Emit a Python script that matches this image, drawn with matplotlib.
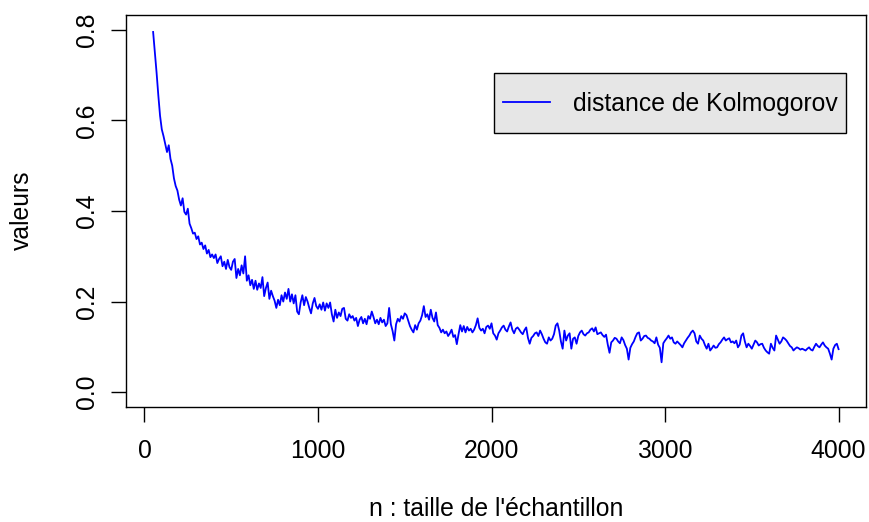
import numpy as np
import matplotlib
matplotlib.use("Agg")
import matplotlib.pyplot as plt

plt.rcParams['font.family'] = ['Liberation Sans', 'DejaVu Sans']

# sample sizes n = 50, 60, ..., 4000
n_start, n_stop, n_step = 50, 4000, 10
n_values = list(range(n_start, n_stop + 1, n_step))

# Kolmogorov distance for each sample size (rows grouped by hundreds of n)
kolmogorov = [
    0.795, 0.750, 0.705, 0.655, 0.610,
    0.580, 0.565, 0.548, 0.530, 0.545, 0.515, 0.500, 0.472, 0.455, 0.445,
    0.425, 0.412, 0.428, 0.398, 0.392, 0.405, 0.372, 0.362, 0.350, 0.352,
    0.338, 0.344, 0.326, 0.330, 0.316, 0.324, 0.306, 0.314, 0.298, 0.304,
    0.296, 0.304, 0.285, 0.294, 0.300, 0.278, 0.288, 0.272, 0.292, 0.276,
    0.270, 0.288, 0.294, 0.252, 0.272, 0.258, 0.280, 0.262, 0.300, 0.246,
    0.258, 0.236, 0.248, 0.228, 0.246, 0.226, 0.240, 0.230, 0.254, 0.212,
    0.230, 0.242, 0.206, 0.224, 0.212, 0.202, 0.186, 0.204, 0.192, 0.214,
    0.200, 0.220, 0.206, 0.228, 0.200, 0.216, 0.196, 0.214, 0.178, 0.172,
    0.198, 0.214, 0.192, 0.210, 0.200, 0.186, 0.174, 0.196, 0.208, 0.190,
    0.184, 0.194, 0.182, 0.198, 0.180, 0.196, 0.186, 0.198, 0.172, 0.156,
    0.182, 0.164, 0.176, 0.168, 0.184, 0.186, 0.162, 0.158, 0.172, 0.164,
    0.168, 0.158, 0.164, 0.146, 0.160, 0.166, 0.152, 0.162, 0.150, 0.168,
    0.162, 0.178, 0.166, 0.152, 0.160, 0.150, 0.164, 0.154, 0.160, 0.146,
    0.152, 0.186, 0.150, 0.135, 0.114, 0.150, 0.162, 0.156, 0.168, 0.162,
    0.174, 0.170, 0.158, 0.146, 0.138, 0.132, 0.148, 0.138, 0.152, 0.158,
    0.170, 0.190, 0.166, 0.172, 0.160, 0.182, 0.164, 0.156, 0.176, 0.148,
    0.142, 0.132, 0.138, 0.130, 0.134, 0.124, 0.130, 0.138, 0.122, 0.126,
    0.106, 0.128, 0.148, 0.134, 0.146, 0.132, 0.144, 0.136, 0.140, 0.132,
    0.138, 0.148, 0.163, 0.142, 0.136, 0.140, 0.130, 0.144, 0.147, 0.140,
    0.152, 0.130, 0.125, 0.116, 0.130, 0.136, 0.143, 0.147, 0.138, 0.134,
    0.145, 0.154, 0.138, 0.130, 0.140, 0.143, 0.138, 0.132, 0.128, 0.137,
    0.143, 0.120, 0.107, 0.120, 0.124, 0.130, 0.132, 0.124, 0.136, 0.128,
    0.118, 0.110, 0.107, 0.121, 0.114, 0.118, 0.128, 0.147, 0.152, 0.136,
    0.112, 0.096, 0.136, 0.114, 0.125, 0.130, 0.096, 0.118, 0.121, 0.107,
    0.124, 0.132, 0.136, 0.128, 0.125, 0.130, 0.132, 0.138, 0.141, 0.134,
    0.143, 0.128, 0.130, 0.132, 0.126, 0.122, 0.127, 0.105, 0.087, 0.110,
    0.114, 0.120, 0.118, 0.112, 0.108, 0.121, 0.115, 0.104, 0.096, 0.072,
    0.098, 0.106, 0.112, 0.122, 0.130, 0.132, 0.114, 0.118, 0.124, 0.125,
    0.120, 0.118, 0.114, 0.112, 0.108, 0.121, 0.105, 0.098, 0.066, 0.108,
    0.114, 0.119, 0.125, 0.118, 0.121, 0.110, 0.107, 0.112, 0.108, 0.104,
    0.099, 0.108, 0.114, 0.120, 0.125, 0.132, 0.136, 0.130, 0.112, 0.107,
    0.125, 0.118, 0.114, 0.104, 0.096, 0.107, 0.092, 0.097, 0.103, 0.098,
    0.099, 0.106, 0.110, 0.116, 0.121, 0.114, 0.117, 0.119, 0.110, 0.112,
    0.108, 0.114, 0.099, 0.105, 0.125, 0.130, 0.112, 0.099, 0.107, 0.102,
    0.096, 0.105, 0.114, 0.110, 0.103, 0.106, 0.107, 0.098, 0.092, 0.088,
    0.085, 0.107, 0.098, 0.092, 0.125, 0.116, 0.107, 0.112, 0.121, 0.118,
    0.114, 0.108, 0.102, 0.099, 0.092, 0.096, 0.099, 0.097, 0.094, 0.096,
    0.094, 0.092, 0.096, 0.099, 0.094, 0.092, 0.100, 0.107, 0.102, 0.099,
    0.105, 0.110, 0.103, 0.099, 0.096, 0.085, 0.072, 0.096, 0.104, 0.107,
    0.095,
]
assert len(kolmogorov) == len(n_values)

x_ticks = [0, 1000, 2000, 3000, 4000]
y_ticks = [0.0, 0.2, 0.4, 0.6, 0.8]
y_tick_labels = ["0.0", "0.2", "0.4", "0.6", "0.8"]
series_label = "distance de Kolmogorov"
x_title = "n : taille de l'échantillon"
y_title = "valeurs"

FS = 17.8
W, H = 870, 522
box_l, box_r, box_t, box_b = 125.7, 866.0, 15.2, 406.7
fig = plt.figure(figsize=(W / 100, H / 100), dpi=100)
ax = fig.add_axes([box_l / W, 1 - box_b / H, (box_r - box_l) / W, (box_b - box_t) / H])

ax.plot(n_values, kolmogorov, color="#0000ff", lw=1.3, label=series_label)

# R-style ranges: 4 % padding around the data range / requested limits
xr = n_stop - n_start
ax.set_xlim(n_start - 0.04 * xr, n_stop + 0.04 * xr)
ax.set_ylim(-0.032, 0.832)

ax.set_xticks(x_ticks)
ax.set_xticklabels([str(v) for v in x_ticks])
ax.set_yticks(y_ticks)
ax.set_yticklabels(y_tick_labels)

for s in ax.spines.values():
    s.set_linewidth(1.0)
    s.set_color("black")

ax.tick_params(axis="both", direction="out", length=11, width=1.0,
               labelsize=FS, colors="black")
ax.tick_params(axis="x", pad=12)
ax.tick_params(axis="y", pad=8)
for lab in ax.get_yticklabels():
    lab.set_rotation(90)
    lab.set_va("center")
    lab.set_ha("right")

fig.text(22 / W, 1 - 210.7 / H, y_title, rotation=90, ha="center",
         va="center", fontsize=FS)
fig.text((box_l + box_r) / 2 / W, 1 - 509 / H, x_title, ha="center",
         va="center", fontsize=FS)

leg = ax.legend(loc="upper right",
                bbox_to_anchor=((846 - box_l) / (box_r - box_l),
                                (box_b - 73) / (box_b - box_t)),
                fontsize=FS, frameon=True, fancybox=False, borderpad=0.35,
                handlelength=1.9, handletextpad=0.93, handleheight=2.28,
                borderaxespad=0.0)
# keep the key line level with the text inside the taller box
key = leg.get_lines()[0]
key.set_ydata(np.asarray(key.get_ydata()) - 4.0)
frame = leg.get_frame()
frame.set_facecolor("#e6e6e6")
frame.set_edgecolor("black")
frame.set_linewidth(1.0)
frame.set_alpha(1.0)

fig.savefig("out.png", dpi=100)
